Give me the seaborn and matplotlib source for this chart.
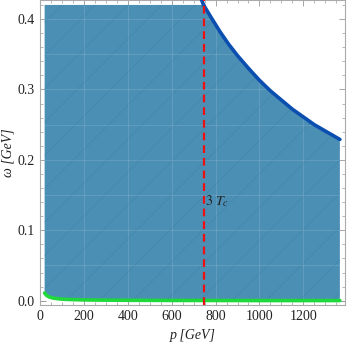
import numpy as np
import pandas as pd
import matplotlib.pyplot as plt
import seaborn as sns

# values
p_upper = [745, 780, 820, 860, 900, 950, 1000, 1050, 1100, 1150, 1200, 1250, 1300, 1367]
w_upper = [0.420, 0.402, 0.382, 0.364, 0.348, 0.330, 0.313, 0.298, 0.285, 0.272, 0.261, 0.250, 0.241, 0.229]

p_lower = [20, 25, 30, 40, 50, 60, 80, 100, 150, 200, 300, 400, 600, 800, 1000, 1367]
w_lower = [0.011, 0.0088, 0.0073, 0.0055, 0.0044, 0.0037, 0.0028, 0.0022, 0.0015, 0.0011, 0.0008, 0.0006, 0.0004, 0.0003, 0.0002, 0.0002]

w_top = 0.420
p_tc = 745
x_ticks = [0, 200, 400, 600, 800, 1000, 1200]
y_ticks = [0.0, 0.1, 0.2, 0.3, 0.4]

sns.set_style("ticks")
plt.rcParams['font.family'] = ['Liberation Serif', 'DejaVu Serif']
plt.rcParams['mathtext.fontset'] = 'stix'
plt.rcParams['hatch.linewidth'] = 0.4

fig = plt.figure(figsize=(3.47, 3.43), dpi=100)
ax = fig.add_axes([0.116, 0.111, 0.878, 0.889])

# shaded region: lower curve -> right edge -> upper curve -> flat top
poly_x = p_lower + p_upper[::-1] + [p_lower[0]]
poly_y = w_lower + w_upper[::-1] + [w_top]
ax.fill(poly_x, poly_y, facecolor='#4b8fb5', edgecolor='#4085ab', hatch='/',
        linewidth=0, zorder=1)

# faint grid
for gx in [200, 400, 600, 800, 1000, 1200]:
    ax.axvline(gx, color='white', alpha=0.12, lw=0.8, zorder=2)
for gy in np.arange(0.05, 0.43, 0.05):
    ax.axhline(gy, color='white', alpha=0.12, lw=0.8, zorder=2)

up = pd.DataFrame({'p': p_upper, 'w': w_upper})
lo = pd.DataFrame({'p': p_lower, 'w': w_lower})
sns.lineplot(data=up, x='p', y='w', ax=ax, color='#0a4fb0', lw=2.6, zorder=4)
ax.plot([p_upper[0], 720], [w_upper[0], 0.44], color='#0a4fb0', lw=2.6, zorder=4)
sns.lineplot(data=lo, x='p', y='w', ax=ax, color='#1fd83c', lw=2.6, zorder=4)

ax.axvline(p_tc, color='#ee1111', lw=1.6, ls=(0, (3.5, 2.2)), zorder=5)
ax.text(p_tc + 5, 0.141, r'$3\ T_c$', fontsize=10, color='#222222', va='center', ha='left', zorder=6)

ax.set_xlim(0, 1390)
ax.set_ylim(-0.006, 0.427)
ax.set_xticks(x_ticks)
ax.set_yticks(y_ticks)
ax.set_xticks(np.arange(0, 1390, 50), minor=True)
ax.set_yticks(np.arange(0, 0.427, 0.02), minor=True)
ax.set_yticklabels([f'{v:.1f}' for v in y_ticks])
ax.tick_params(which='both', direction='in', top=True, right=True, color='#999999',
               labelsize=10, labelcolor='#222222')
ax.tick_params(which='major', length=4, width=0.7, pad=4)
ax.tick_params(which='minor', length=2, width=0.5)
for s in ax.spines.values():
    s.set_color('#aaaaaa')
    s.set_linewidth(0.8)

ax.set_xlabel('p [GeV]', fontsize=10, style='italic', color='#222222', labelpad=4)
ax.set_ylabel('ω [GeV]', fontsize=10, style='italic', color='#222222', labelpad=2)

fig.savefig('out.png', dpi=100)
